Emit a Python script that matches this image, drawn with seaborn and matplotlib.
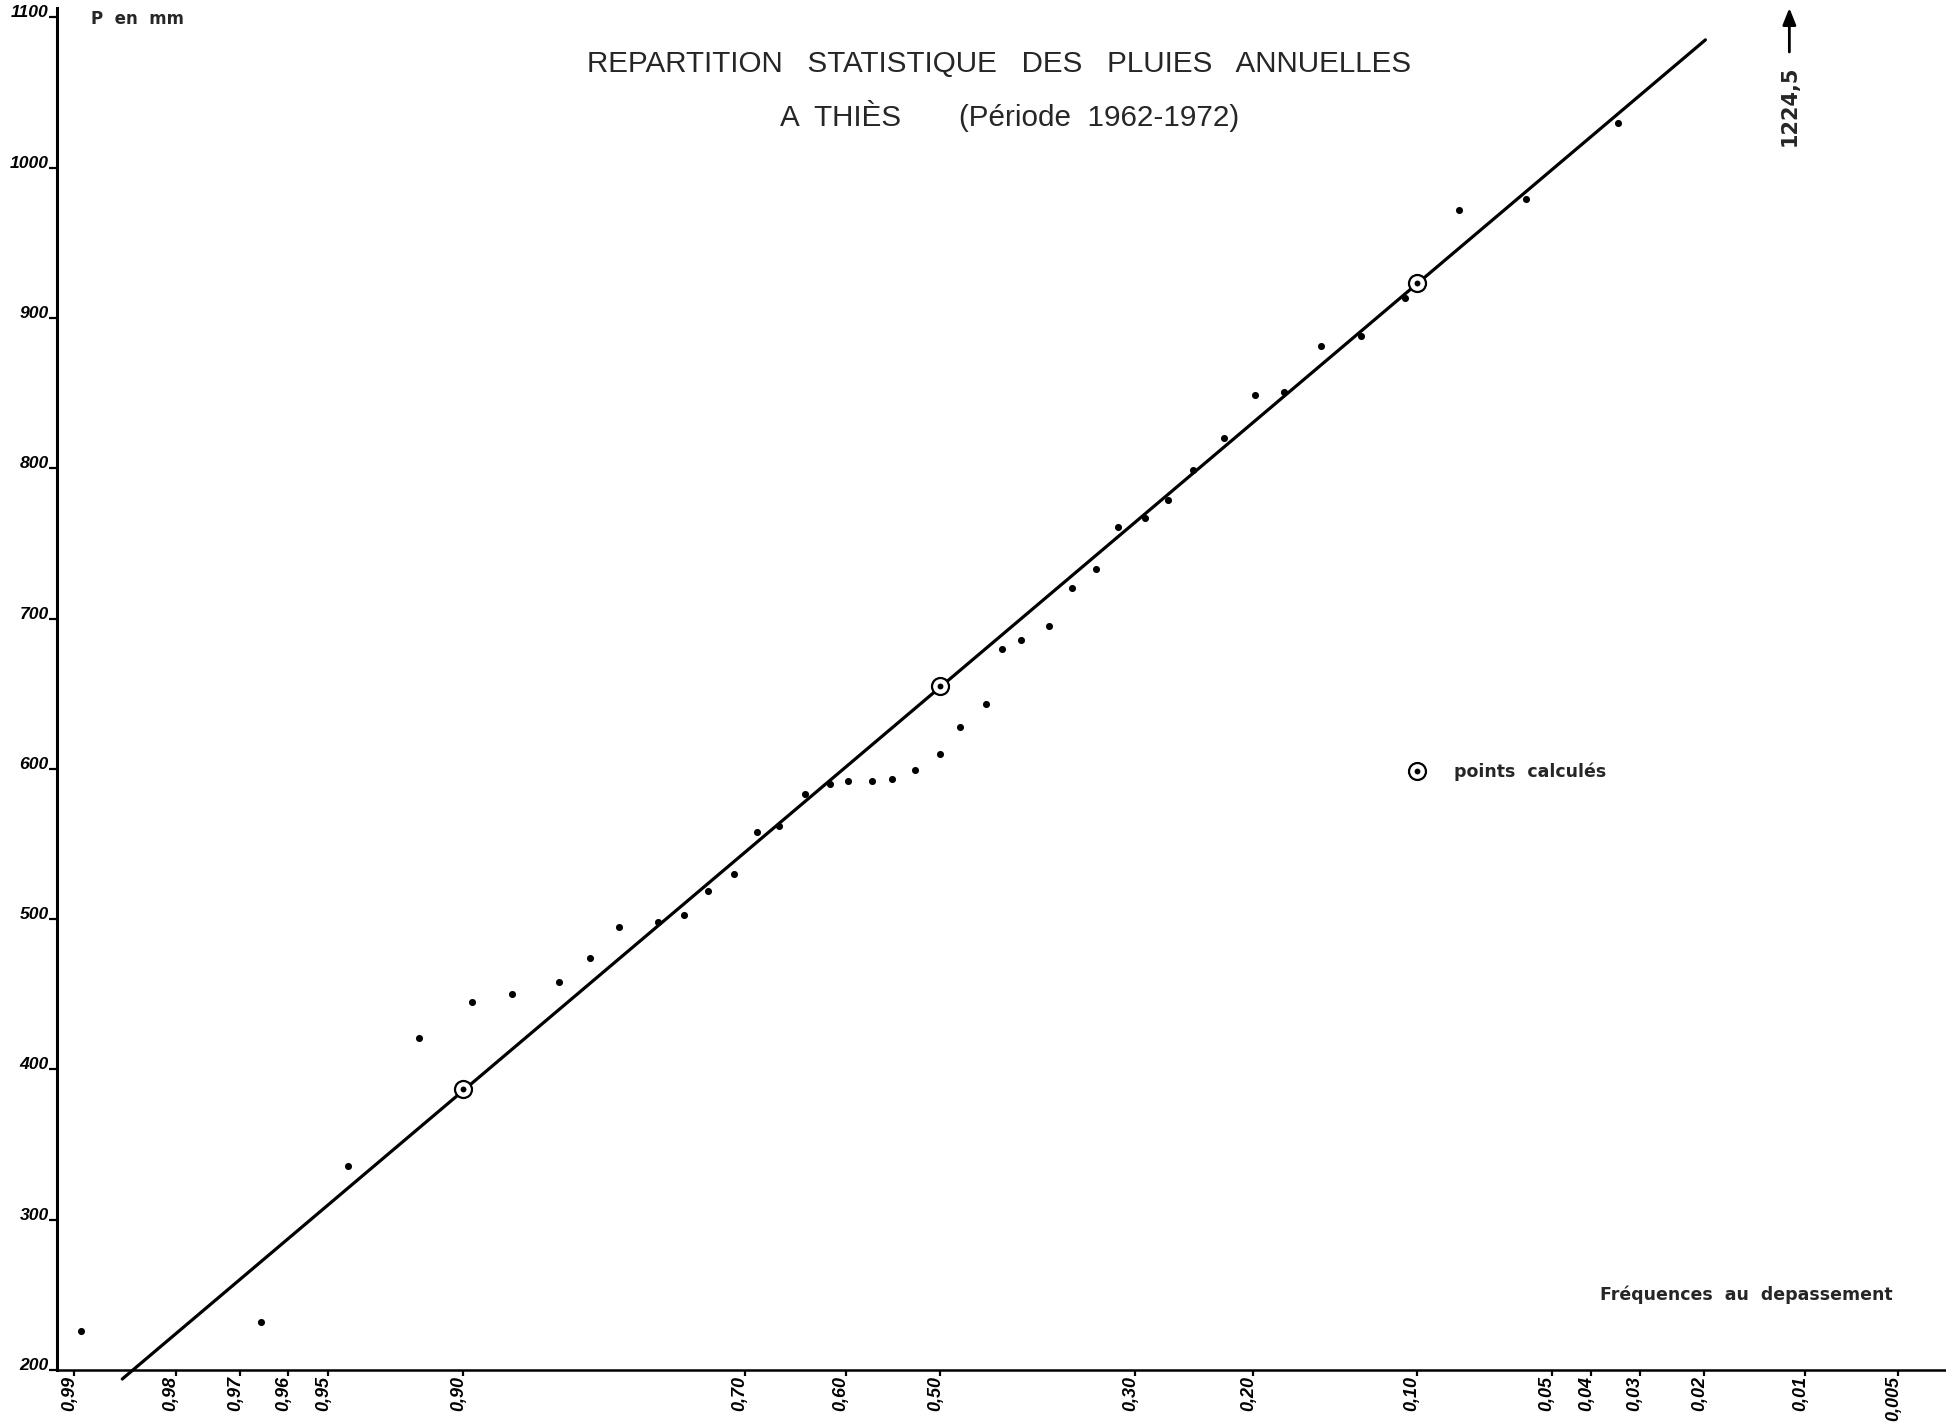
import math
import numpy as np
import pandas as pd
import matplotlib
matplotlib.use("Agg")
import matplotlib.pyplot as plt
from matplotlib.lines import Line2D
from matplotlib.ticker import NullLocator
import seaborn as sns

# ---------------- data ----------------
freq_depassement = [0.9895, 0.9660, 0.9441, 0.9193, 0.8957, 0.8747, 0.8470, 0.8266,
                    0.8057, 0.7753, 0.7543, 0.7336, 0.7096, 0.6886, 0.6671, 0.6411,
                    0.6160, 0.5970, 0.5719, 0.5513, 0.5262, 0.5000, 0.4779, 0.4501,
                    0.4335, 0.4135, 0.3841, 0.3611, 0.3372, 0.3161, 0.2905, 0.2700,
                    0.2477, 0.2224, 0.1983, 0.1772, 0.1527, 0.1289, 0.1056, 0.0814,
                    0.0575, 0.0342]
pluie_mm = [226, 232, 336, 421, 445, 450, 458, 474, 495, 498, 503, 519, 530, 558,
            562, 583, 590, 592, 592, 593, 599, 610, 628, 643, 680, 686, 695, 720,
            733, 761, 767, 779, 799, 820, 849, 851, 881, 888, 913, 972, 979, 1030]

calc_freq = [0.90, 0.50, 0.10]
calc_pluie = [387, 655, 923]

droite_freq = [0.986, 0.0198]
droite_pluie = [194, 1085]

max_freq = 0.0112
max_label = "1224,5"

xtick_values = [0.99, 0.98, 0.97, 0.96, 0.95, 0.90, 0.70, 0.60, 0.50, 0.30, 0.20,
                0.10, 0.05, 0.04, 0.03, 0.02, 0.01, 0.005]
xtick_labels = ["0,99", "0,98", "0,97", "0,96", "0,95", "0,90", "0,70", "0,60",
                "0,50", "0,30", "0,20", "0,10", "0,05", "0,04", "0,03", "0,02",
                "0,01", "0,005"]
ytick_values = [200, 300, 400, 500, 600, 700, 800, 900, 1000, 1100]
ytick_labels = ["200", "300", "400", "500", "600", "700", "800", "900", "1000", "1100"]

title_1 = "REPARTITION   STATISTIQUE   DES   PLUIES   ANNUELLES"
title_2 = "A  THIÈS       (Période  1962-1972)"
y_label = "P  en  mm"
x_label = "Fréquences  au  depassement"
legend_label = "points  calculés"

# ---------------- Gaussian probability scale ----------------
_A = [-3.969683028665376e+01, 2.209460984245205e+02, -2.759285104469687e+02,
      1.383577518672690e+02, -3.066479806614716e+01, 2.506628277459239e+00]
_B = [-5.447609879822406e+01, 1.615858368580409e+02, -1.556989798598866e+02,
      6.680131188771972e+01, -1.328068155288572e+01]
_C = [-7.784894002430293e-03, -3.223964580411365e-01, -2.400758277161838e+00,
      -2.549732539343734e+00, 4.374664141464968e+00, 2.938163982698783e+00]
_D = [7.784695709041462e-03, 3.224671290700398e-01, 2.445134137142996e+00,
      3.754408661907416e+00]


def norm_ppf(p):
    p = np.asarray(p, dtype=float)
    shape = p.shape
    p = np.clip(np.nan_to_num(p.ravel(), nan=0.5), 1e-12, 1 - 1e-12)
    x = np.empty_like(p)
    plow = 0.02425
    lo = p < plow
    hi = p > 1 - plow
    mid = ~(lo | hi)
    q = np.sqrt(-2 * np.log(p[lo]))
    x[lo] = (((((_C[0]*q+_C[1])*q+_C[2])*q+_C[3])*q+_C[4])*q+_C[5]) / \
            ((((_D[0]*q+_D[1])*q+_D[2])*q+_D[3])*q+1)
    q = p[mid] - 0.5
    r = q * q
    x[mid] = (((((_A[0]*r+_A[1])*r+_A[2])*r+_A[3])*r+_A[4])*r+_A[5])*q / \
             (((((_B[0]*r+_B[1])*r+_B[2])*r+_B[3])*r+_B[4])*r+1)
    q = np.sqrt(-2 * np.log(1 - p[hi]))
    x[hi] = -(((((_C[0]*q+_C[1])*q+_C[2])*q+_C[3])*q+_C[4])*q+_C[5]) / \
             ((((_D[0]*q+_D[1])*q+_D[2])*q+_D[3])*q+1)
    return x.reshape(shape)


_erf = np.vectorize(math.erf, otypes=[float])


def norm_cdf(z):
    z = np.asarray(z, dtype=float)
    return 0.5 * (1.0 + _erf(z / math.sqrt(2.0)))


# ---------------- figure ----------------
sns.set_theme(style="white")
plt.rcParams["font.family"] = ["DejaVu Sans"]

W, H = 1946, 1424
fig = plt.figure(figsize=(W / 100, H / 100), dpi=100)
fig.patch.set_facecolor("white")
ax = fig.add_axes([57 / W, 1 - 1370 / H, 1889 / W, 1362 / H])
ax.set_facecolor("white")

df_pts = pd.DataFrame({"freq": freq_depassement, "pluie": pluie_mm})
df_calc = pd.DataFrame({"freq": calc_freq, "pluie": calc_pluie})
df_line = pd.DataFrame({"freq": droite_freq, "pluie": droite_pluie})

sns.lineplot(data=df_line, x="freq", y="pluie", ax=ax, color="black", lw=2.3,
             sort=False, estimator=None, clip_on=False, zorder=2)
sns.scatterplot(data=df_pts, x="freq", y="pluie", ax=ax, color="black", s=26,
                linewidth=0, zorder=4, legend=False)
sns.scatterplot(data=df_calc, x="freq", y="pluie", ax=ax, color="white", s=150,
                edgecolor="black", linewidth=1.6, zorder=5, legend=False)
sns.scatterplot(data=df_calc, x="freq", y="pluie", ax=ax, color="black", s=18,
                linewidth=0, zorder=6, legend=False)

ax.set_xscale("function", functions=(norm_ppf, norm_cdf))
ax.set_xlim(0.99117, 0.00342)
ax.set_ylim(200, 1106.2)

tick_font = dict(family=["Liberation Sans", "DejaVu Sans"], fontweight="bold",
                 fontstyle="italic")
ax.set_xticks(xtick_values)
ax.set_xticklabels(xtick_labels, rotation=90, ha="right", va="baseline",
                   rotation_mode="anchor", fontsize=13, **tick_font)
ax.xaxis.set_minor_locator(NullLocator())
ax.set_yticks(ytick_values)
ax.set_yticklabels(ytick_labels, va="baseline", fontsize=12.6, **tick_font)
ax.yaxis.set_minor_locator(NullLocator())

ax.tick_params(axis="x", direction="out", length=4, width=1.6, pad=0,
               colors="black", bottom=True)
ax.tick_params(axis="y", direction="out", length=6, width=1.6, pad=0,
               colors="black", left=True)
for side in ("top", "right"):
    ax.spines[side].set_visible(False)
ax.spines["left"].set_linewidth(2.2)
ax.spines["bottom"].set_linewidth(1.8)
for side in ("left", "bottom"):
    ax.spines[side].set_color("black")
ax.set_xlabel("")
ax.set_ylabel("")

# legend
ring = Line2D([], [], marker="o", ms=12.2, mfc="white", mec="black", mew=1.6, ls="none")
dot = Line2D([], [], marker="o", ms=4.2, mfc="black", mec="black", mew=0, ls="none")
ax.legend([(ring, dot)], [legend_label], loc="center left",
          bbox_to_anchor=(0.7152, 0.4391), frameon=False, borderpad=0,
          borderaxespad=0, handlelength=1.0, handletextpad=1.64,
          prop=dict(family="DejaVu Sans", weight="bold", size=12.5))

# texts
fig.text(998.6 / W, 1 - 64 / H, title_1, ha="center", va="center",
         family=["Liberation Sans", "DejaVu Sans"], fontsize=21.3)
fig.text(1010 / W, 1 - 116 / H, title_2, ha="center", va="center",
         family=["Liberation Sans", "DejaVu Sans"], fontsize=21.3)
fig.text(90.7 / W, 1 - 18.5 / H, y_label, ha="left", va="center",
         family="DejaVu Sans", fontweight="bold", fontsize=12)
fig.text(1600 / W, 1 - 1295 / H, x_label, ha="left", va="center",
         family="DejaVu Sans", fontweight="bold", fontsize=12.5)

# off-chart maximum
trans = ax.get_xaxis_transform()
ax.annotate("", xy=(max_freq, 1.0), xycoords=trans,
            xytext=(max_freq, 0.9677), textcoords=trans,
            arrowprops=dict(arrowstyle="-|>,head_length=0.5,head_width=0.2",
                            mutation_scale=20, lw=2, color="black",
                            shrinkA=0, shrinkB=0),
            annotation_clip=False)
ax.text(max_freq, 0.928, max_label, transform=trans, rotation=90, ha="center",
        va="center", family="DejaVu Sans", fontweight="bold", fontsize=15,
        clip_on=False)

fig.savefig("out.png", dpi=100, facecolor="white")
